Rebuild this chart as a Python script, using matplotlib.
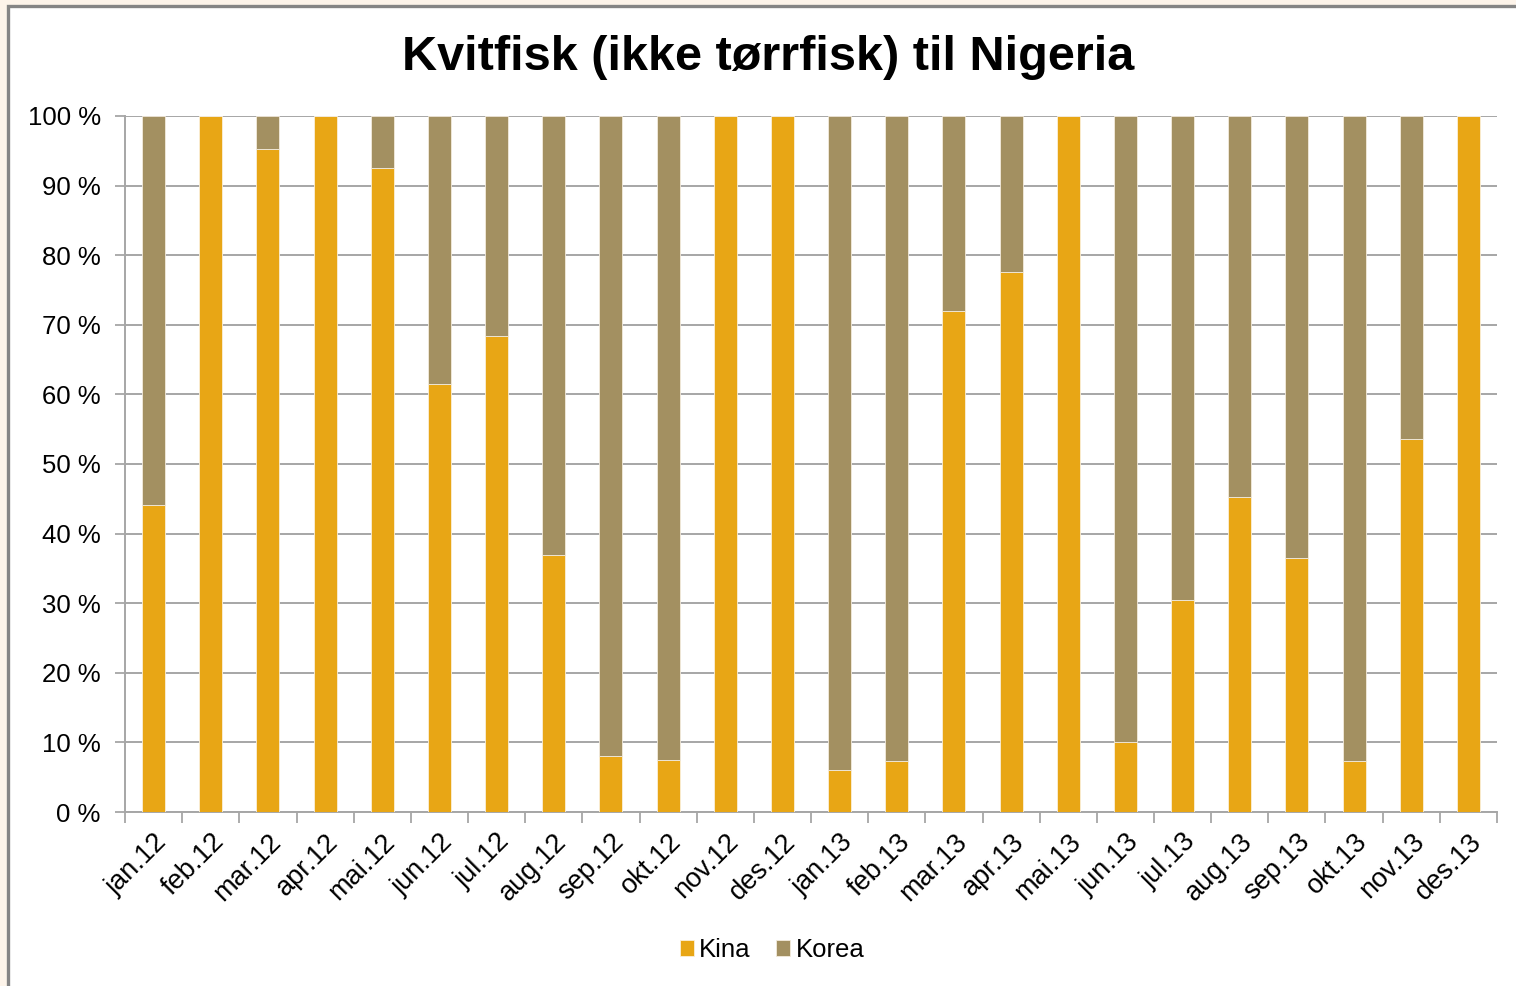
import matplotlib.pyplot as plt
from matplotlib.patches import Rectangle
from matplotlib.ticker import FixedLocator, FuncFormatter
import numpy as np

plt.rcParams["font.family"] = ["Liberation Sans", "DejaVu Sans"]

months = ["jan.12", "feb.12", "mar.12", "apr.12", "mai.12", "jun.12",
          "jul.12", "aug.12", "sep.12", "okt.12", "nov.12", "des.12",
          "jan.13", "feb.13", "mar.13", "apr.13", "mai.13", "jun.13",
          "jul.13", "aug.13", "sep.13", "okt.13", "nov.13", "des.13"]
kina = [44.1, 100, 95.3, 100, 92.5, 61.5, 68.4, 36.9, 8.0, 7.5, 100, 100,
        6.0, 7.3, 72.0, 77.6, 100, 10.1, 30.5, 45.3, 36.5, 7.3, 53.6, 100]
korea = [100 - v for v in kina]

KINA_COLOR = "#E8A615"
KOREA_COLOR = "#A39061"
GRID = "#A6A6A6"

fig = plt.figure(figsize=(15.16, 9.86), dpi=100)
fig.patch.set_facecolor("#FDF4EA")
# white chart area with grey frame (left/top visible)
fig.patches.append(Rectangle((8 / 1516, -0.05), 1.1, 1 - 6 / 986 + 0.05,
                             transform=fig.transFigure, facecolor="white",
                             edgecolor="#858585", linewidth=2.4, zorder=-10))

ax = fig.add_axes([125 / 1516, 1 - 812 / 986, (1497 - 125) / 1516, (812 - 116) / 986])
ax.set_zorder(5)
x = np.arange(len(months))
ax.bar(x, kina, width=0.4, color=KINA_COLOR, label="Kina", zorder=3,
       edgecolor="#FBEFD8", linewidth=0.6)
ax.bar(x, korea, width=0.4, bottom=kina, color=KOREA_COLOR, label="Korea", zorder=3,
       edgecolor="#F3EBDD", linewidth=0.6)

ax.set_xlim(-0.5, len(months) - 0.5)
ax.set_ylim(0, 100)
ax.set_yticks(np.arange(0, 101, 10))
ax.yaxis.set_major_formatter(FuncFormatter(lambda v, p: f"{int(v)} %"))
ax.yaxis.grid(True, color=GRID, linewidth=1.4, zorder=0)
ax.set_axisbelow(True)

ax.set_xticks(x)
ax.set_xticklabels(months, rotation=45, ha="right", rotation_mode="anchor")
ax.xaxis.set_minor_locator(FixedLocator(np.arange(-0.5, len(months), 1)))
ax.tick_params(axis="x", which="major", length=0, pad=12, labelsize=19.5)
ax.tick_params(axis="x", which="minor", length=8, width=1.3, color=GRID, direction="out")
ax.tick_params(axis="y", length=7, width=1.3, color=GRID, labelsize=18.5, pad=10.5)

for s in ["top", "right"]:
    ax.spines[s].set_visible(False)
for s in ["left", "bottom"]:
    ax.spines[s].set_color(GRID)
    ax.spines[s].set_linewidth(1.4)

fig.text(768 / 1516, 1 - 57 / 986, "Kvitfisk (ikke tørrfisk) til Nigeria",
         ha="center", va="center", fontsize=35, fontweight="bold")

fig.legend(loc="center", bbox_to_anchor=(772 / 1516, 1 - 950 / 986), ncol=2,
           frameon=False, fontsize=18.5, handlelength=0.55, handleheight=0.55,
           handletextpad=0.2, columnspacing=1.0)

fig.savefig("out.png", dpi=100, facecolor=fig.get_facecolor())
